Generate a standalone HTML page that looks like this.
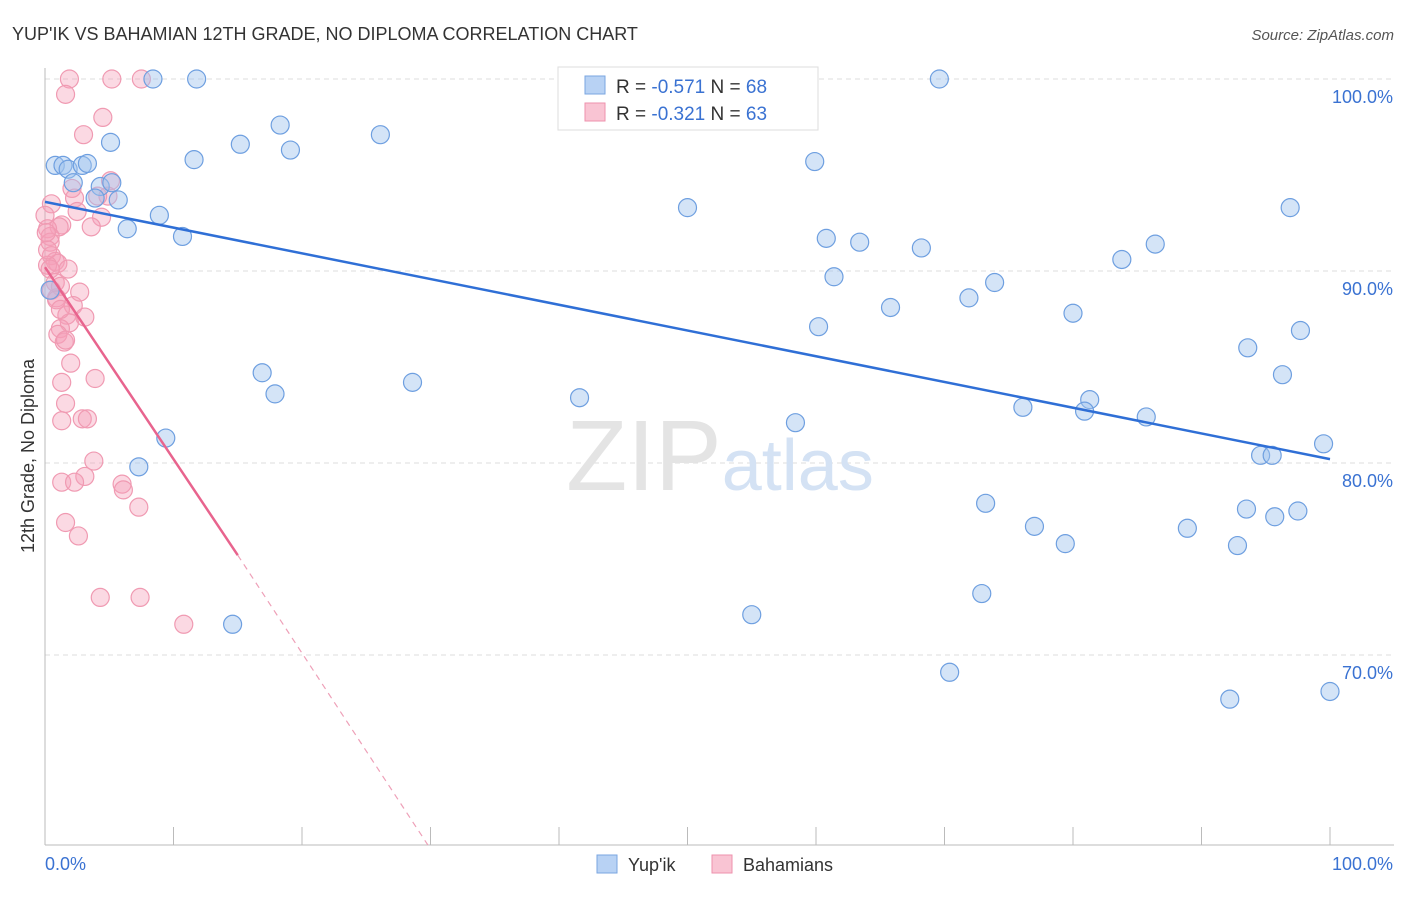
<!DOCTYPE html>
<html><head><meta charset="utf-8"><style>
body{margin:0;background:#fff;font-family:"Liberation Sans",sans-serif;}
svg text{font-family:"Liberation Sans",sans-serif;}
</style></head><body>
<svg id="chart" width="1406" height="892" xmlns="http://www.w3.org/2000/svg">
<text x="12" y="40" font-size="18" fill="#333">YUP'IK VS BAHAMIAN 12TH GRADE, NO DIPLOMA CORRELATION CHART</text>
<text x="1394" y="40" font-size="15" fill="#555" text-anchor="end" font-style="italic">Source: ZipAtlas.com</text>
<text transform="translate(34,456) rotate(-90)" font-size="18" fill="#333" text-anchor="middle">12th Grade, No Diploma</text>
<g id="grid"></g>
<g id="axes"></g>
<text x="720" y="490" font-size="100" fill="#e4e4e4" text-anchor="middle" font-family="Liberation Serif">ZIP<tspan fill="#d4e2f4" font-family="Liberation Sans" font-size="72">atlas</tspan></text>
<g id="pts"></g>
<g id="lines"></g>
<g>
<rect x="558" y="67" width="260" height="63" fill="#fff" stroke="#ddd"/>
<rect x="585" y="76" width="20" height="18" fill="#b8d2f4" stroke="#7aa6e0"/>
<rect x="585" y="103" width="20" height="18" fill="#f9c4d3" stroke="#ee92ac"/>
<text x="616" y="93" font-size="19" fill="#333">R = <tspan fill="#3a72d2">-0.571</tspan>   N = <tspan fill="#3a72d2">68</tspan></text>
<text x="616" y="120" font-size="19" fill="#333">R = <tspan fill="#3a72d2">-0.321</tspan>   N = <tspan fill="#3a72d2">63</tspan></text>
</g>
<g>
<rect x="597" y="855" width="20" height="18" fill="#b8d2f4" stroke="#7aa6e0"/>
<text x="628" y="871" font-size="18" fill="#333">Yup'ik</text>
<rect x="712" y="855" width="20" height="18" fill="#f9c4d3" stroke="#ee92ac"/>
<text x="743" y="871" font-size="18" fill="#333">Bahamians</text>
</g>
</svg>
<script>
const blueX=[8.4,11.8,69.6,5.1,18.3,26.1,15.2,19.1,11.6,0.8,1.4,1.8,2.9,3.3,2.2,4.3,5.2,3.9,5.7,8.9,6.4,10.7,50.0,59.9,96.9,60.8,63.4,68.2,86.4,83.8,61.4,73.9,71.9,65.8,80.0,60.2,97.7,93.6,96.3,16.9,17.9,28.6,41.6,58.4,76.1,81.3,80.9,85.7,99.5,9.4,7.3,94.6,95.5,73.2,93.5,95.7,97.5,77.0,79.4,88.9,92.8,55.0,72.9,14.6,70.4,92.2,100,0.4];
const blueY=[100,100,100,96.7,97.6,97.1,96.6,96.3,95.8,95.5,95.5,95.3,95.5,95.6,94.6,94.4,94.6,93.8,93.7,92.9,92.2,91.8,93.3,95.7,93.3,91.7,91.5,91.2,91.4,90.6,89.7,89.4,88.6,88.1,87.8,87.1,86.9,86.0,84.6,84.7,83.6,84.2,83.4,82.1,82.9,83.3,82.7,82.4,81.0,81.3,79.8,80.4,80.4,77.9,77.6,77.2,77.5,76.7,75.8,76.6,75.7,72.1,73.2,71.6,69.1,67.7,68.1,89.0];
const pinkX=[1.9,5.2,7.5,1.6,4.5,3.0,2.1,5.1,4.9,2.3,2.5,4.4,3.6,1.3,1.1,0.5,0.2,0.4,0.4,0.5,0.8,1.0,0.2,1.8,0.4,0.8,1.2,2.7,0.9,2.2,1.7,3.1,1.9,1.2,1.0,1.5,1.6,2.0,3.9,1.3,1.6,1.3,2.9,3.3,3.8,3.1,1.3,2.3,6.0,6.1,7.3,1.6,2.6,4.3,7.4,10.8,0.2,0.5,0.9,0,0.1,1.2,4.1];
const pinkY=[100,100,100,99.2,98.0,97.1,94.3,94.7,93.9,93.8,93.1,92.8,92.3,92.4,92.3,93.5,92.2,91.8,91.5,90.8,90.5,90.4,90.3,90.1,90.1,89.4,89.2,88.9,88.6,88.2,87.7,87.6,87.3,87.0,86.7,86.3,86.4,85.2,84.4,84.2,83.1,82.2,82.3,82.3,80.1,79.3,79.0,79.0,78.9,78.6,77.7,76.9,76.2,73.0,73.0,71.6,91.1,89.0,88.5,92.9,92.0,88.0,93.9];
const blueTrend=[93.6,80.2];
const pinkTrend=[90.2,75.2,60.1];
const pinkTrendX=[0,15,29.8];
const yTicks=[100,90,80,70];
const yTickLabels=["100.0%","90.0%","80.0%","70.0%"];
const xTickLabels=["0.0%","100.0%"];
const NS="http://www.w3.org/2000/svg";
const sx=v=>45+v*12.85, sy=v=>79+(100-v)*19.2;
function mk(tag,attrs,parent){const e=document.createElementNS(NS,tag);for(const k in attrs)e.setAttribute(k,attrs[k]);parent.appendChild(e);return e;}
const grid=document.getElementById('grid'),axes=document.getElementById('axes'),pts=document.getElementById('pts'),lines=document.getElementById('lines');
yTicks.forEach((t,i)=>{
 const l=mk('line',{x1:45,x2:1394,y1:sy(t),y2:sy(t),stroke:'#ddd','stroke-dasharray':'5,4'},grid);
 
 
 const tx=mk('text',{x:1393,y:sy(t)+24,'font-size':18,fill:'#3a72d2','text-anchor':'end'},axes);
 tx.textContent=yTickLabels[i];
 
 
});
mk('line',{x1:45,x2:45,y1:68,y2:845,stroke:'#bbb'},axes);
mk('line',{x1:45,x2:1394,y1:845,y2:845,stroke:'#bbb'},axes);
for(let i=0;i<=10;i++){const t=mk('line',{x1:sx(i*10),x2:sx(i*10),y1:827,y2:845,stroke:'#bbb'},axes);}
[0,100].forEach((v,i)=>{const t=mk('text',{x:i?1393:45,y:870,'font-size':18,fill:'#3a72d2','text-anchor':i?'end':'start'},axes);t.textContent=xTickLabels[i];});
pinkX.forEach((x,i)=>{const c=mk('circle',{cx:sx(x),cy:sy(pinkY[i]),r:9,fill:'rgba(246,160,185,0.4)',stroke:'#f09ab2','stroke-width':1.2},pts);
 
 });
blueX.forEach((x,i)=>{const c=mk('circle',{cx:sx(x),cy:sy(blueY[i]),r:9,fill:'rgba(160,195,238,0.45)',stroke:'#6e9fe0','stroke-width':1.2},pts);
 
 });
const bl=mk('line',{x1:sx(0),y1:sy(blueTrend[0]),x2:sx(100),y2:sy(blueTrend[1]),stroke:'#2f6fd6','stroke-width':2.5},lines);


const pl=mk('line',{x1:sx(pinkTrendX[0]),y1:sy(pinkTrend[0]),x2:sx(pinkTrendX[1]),y2:sy(pinkTrend[1]),stroke:'#e8648e','stroke-width':2.5},lines);


const pd=mk('line',{x1:sx(pinkTrendX[1]),y1:sy(pinkTrend[1]),x2:sx(pinkTrendX[2]),y2:sy(pinkTrend[2]),stroke:'#eea0b8','stroke-width':1.2,'stroke-dasharray':'6,5'},lines);


</script>
</body></html>
